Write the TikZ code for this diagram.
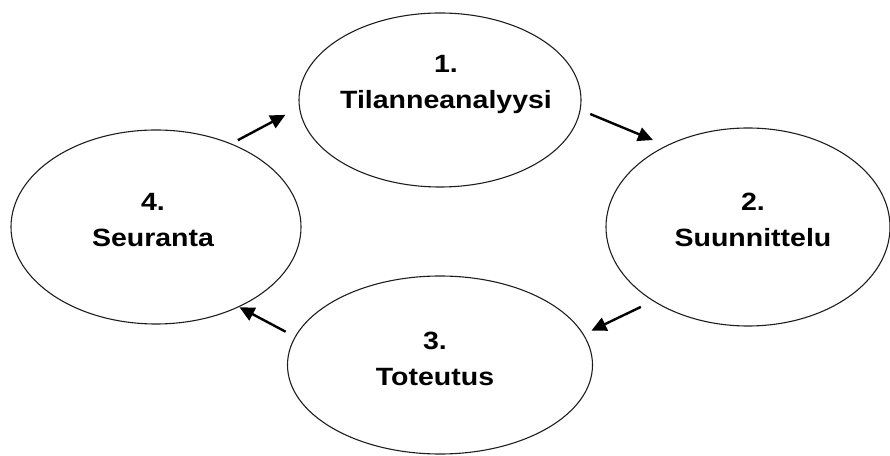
\documentclass[tikz,border=0pt]{standalone}
\usepackage{fontspec}
\setmainfont{Liberation Sans}[FakeStretch=1.14]
\usetikzlibrary{shapes.geometric,arrows.meta,positioning}
\definecolor{outlinegray}{RGB}{30,30,30}

\begin{document}
\begin{tikzpicture}[x=1pt, y=1pt,
        phase/.style={ellipse, draw=outlinegray, line width=1.1pt,
                      inner sep=0pt, outer sep=0pt},
        phasetext/.style={align=center, inner sep=0pt,
                          font=\bfseries\fontsize{25pt}{36pt}\selectfont},
        arrow/.style={-{Triangle[length=15pt,width=14pt]}, line width=2.4pt}
    ]
        \useasboundingbox (0,0) rectangle (890,455);

        % phases of the cycle
        \node[phase, minimum width=282pt, minimum height=174pt] (e1) at (440,355) {};
        \node[phase, minimum width=284pt, minimum height=198pt] (e2) at (748,228) {};
        \node[phase, minimum width=305pt, minimum height=178pt] (e3) at (440,90)  {};
        \node[phase, minimum width=290pt, minimum height=194pt] (e4) at (156,228) {};

        \node[phasetext] (t1) at ([xshift=6pt,yshift=16pt]e1.center) {1.\\Tilanneanalyysi};
        \node[phasetext] (t2) at ([xshift=5pt,yshift=7pt]e2.center)  {2.\\Suunnittelu};
        \node[phasetext] (t3) at ([xshift=-5pt,yshift=6pt]e3.center) {3.\\Toteutus};
        \node[phasetext] (t4) at ([xshift=-3pt,yshift=7pt]e4.center) {4.\\Seuranta};

        % arrows between phases
        \draw[arrow, shorten <=8pt,  shorten >=16pt] (e4.48)  -- (e1.183);
        \draw[arrow, shorten <=11pt, shorten >=15pt] (e1.356) -- (e2.135);
        \draw[arrow, shorten <=14pt, shorten >=9pt]  (e2.218) -- (e3.12);
        \draw[arrow, shorten <=11pt, shorten >=1pt]  (e3.169) -- (e4.316);
    \end{tikzpicture}
\end{document}
